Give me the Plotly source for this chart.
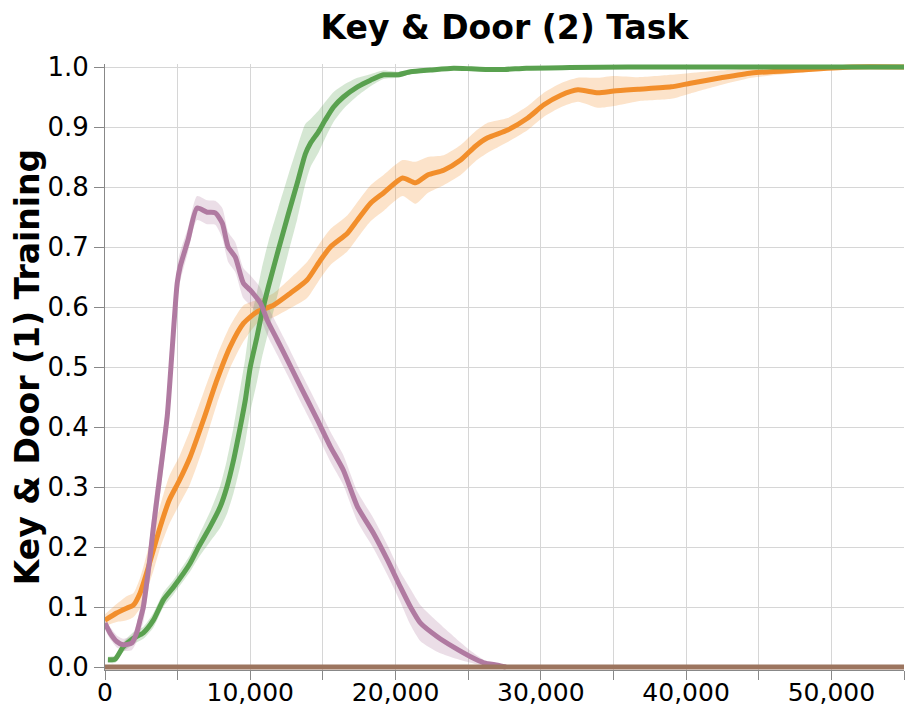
import plotly.graph_objects as go

# training steps / success rate
GREEN_X = [200, 700, 1240, 1950, 2640, 3330, 4020, 4710, 5860, 6440,
           7240, 7930, 8390, 8850, 9310, 9660, 10000, 10460, 10800, 11260,
           11930, 12620, 13240, 13790, 14140, 14690, 15170, 15720, 16410, 17380,
           18280, 19170, 20140, 21030, 22410, 24000, 25200, 26300, 27500, 29000,
           32000, 36000, 40000, 45000, 50000, 55000]
GREEN_Y = [0.012, 0.013, 0.033, 0.048, 0.057, 0.078, 0.112, 0.133, 0.173, 0.2,
           0.234, 0.267, 0.30, 0.345, 0.40, 0.445, 0.50, 0.55, 0.59, 0.635,
           0.695, 0.755, 0.807, 0.855, 0.873, 0.892, 0.912, 0.933, 0.95, 0.967,
           0.978, 0.987, 0.987, 0.992, 0.995, 0.998, 0.997, 0.996, 0.996, 0.998,
           0.999, 1.0, 1.0, 1.0, 1.0, 1.0]
GREEN_STD = [0.005, 0.006, 0.008, 0.01, 0.01, 0.012, 0.012, 0.012, 0.014, 0.018,
             0.025, 0.035, 0.045, 0.055, 0.065, 0.07, 0.075, 0.075, 0.075, 0.075,
             0.07, 0.065, 0.06, 0.05, 0.04, 0.035, 0.03, 0.025, 0.02, 0.015,
             0.01, 0.007, 0.005, 0.004, 0.003, 0.002, 0.002, 0.002, 0.002, 0.002,
             0.001, 0, 0, 0, 0, 0]

ORANGE_X = [0, 800, 1490, 1950, 2410, 2870, 3330, 3790, 4420, 5100,
            5860, 6780, 7700, 8620, 9540, 10460, 11600, 12760, 13910, 14830,
            15520, 16690, 17380, 18280, 19170, 20480, 21380, 22210, 23310, 24480,
            25500, 26340, 27720, 29100, 30210, 31380, 32550, 33930, 35030, 36690,
            38970, 40300, 42400, 44500, 47900, 51400, 55000]
ORANGE_Y = [0.078, 0.09, 0.098, 0.103, 0.123, 0.157, 0.195, 0.233, 0.278, 0.31,
            0.35, 0.412, 0.478, 0.534, 0.573, 0.592, 0.603, 0.623, 0.645, 0.678,
            0.70, 0.723, 0.745, 0.773, 0.79, 0.815, 0.807, 0.82, 0.828, 0.845,
            0.868, 0.882, 0.895, 0.915, 0.937, 0.953, 0.962, 0.957, 0.96, 0.963,
            0.967, 0.973, 0.982, 0.99, 0.995, 1.0, 1.0]
ORANGE_STD = [0.01, 0.015, 0.02, 0.02, 0.025, 0.03, 0.035, 0.035, 0.04, 0.04,
              0.045, 0.045, 0.04, 0.035, 0.03, 0.02, 0.02, 0.025, 0.03, 0.03,
              0.03, 0.03, 0.03, 0.03, 0.03, 0.03, 0.035, 0.03, 0.025, 0.025,
              0.025, 0.025, 0.02, 0.02, 0.02, 0.02, 0.02, 0.025, 0.025, 0.02,
              0.02, 0.017, 0.012, 0.008, 0.004, 0.001, 0]

PURPLE_X = [0, 340, 830, 1240, 1840, 2180, 2410, 2640, 2870, 3100,
            3330, 3590, 4280, 4620, 4970, 5170, 5720, 6340, 7030, 7590,
            8070, 8480, 8970, 9520, 10000, 10690, 11170, 11860, 12550, 13240,
            13930, 14620, 15520, 16410, 17380, 18480, 19450, 20340, 21030, 21720,
            22900, 24000, 25170, 26070, 27030, 27600]
PURPLE_Y = [0.073, 0.057, 0.042, 0.037, 0.04, 0.057, 0.078, 0.1, 0.14, 0.183,
            0.233, 0.283, 0.417, 0.528, 0.64, 0.667, 0.712, 0.765, 0.758, 0.757,
            0.74, 0.70, 0.683, 0.64, 0.628, 0.607, 0.578, 0.545, 0.512, 0.478,
            0.445, 0.412, 0.367, 0.328, 0.267, 0.223, 0.178, 0.133, 0.10, 0.073,
            0.05, 0.033, 0.017, 0.007, 0.003, 0.0]
PURPLE_STD = [0.01, 0.01, 0.01, 0.01, 0.012, 0.015, 0.02, 0.025, 0.03, 0.035,
              0.035, 0.035, 0.03, 0.03, 0.03, 0.025, 0.02, 0.02, 0.02, 0.02,
              0.025, 0.025, 0.025, 0.025, 0.025, 0.025, 0.025, 0.025, 0.025, 0.025,
              0.025, 0.025, 0.025, 0.025, 0.025, 0.025, 0.025, 0.025, 0.03, 0.03,
              0.025, 0.018, 0.01, 0.005, 0.002, 0]

BROWN_X = [0, 55000]
BROWN_Y = [0.0, 0.0]

X_TICKS = [0, 5000, 10000, 15000, 20000, 25000, 30000, 35000, 40000, 45000, 50000, 55000]
X_LABELS = ["0", "", "10,000", "", "20,000", "", "30,000", "", "40,000", "", "50,000", ""]


def band(x, y, std, rgb):
    upper = [min(v + s, 1.0) for v, s in zip(y, std)]
    lower = [max(v - s, 0.0) for v, s in zip(y, std)]
    return go.Scatter(
        x=x + x[::-1],
        y=upper + lower[::-1],
        fill="toself",
        fillcolor=f"rgba({rgb},0.25)",
        line={"width": 0, "shape": "spline", "smoothing": 0.6},
        mode="lines",
        hoverinfo="skip",
        showlegend=False,
    )


def line(x, y, color):
    return go.Scatter(
        x=x, y=y, mode="lines",
        line={"color": color, "width": 5, "shape": "spline", "smoothing": 0.6},
        showlegend=False,
    )


fig = go.Figure()

# shaded spread first, then the mean curves on top
fig.add_trace(band(ORANGE_X, ORANGE_Y, ORANGE_STD, "242,142,43"))
fig.add_trace(band(GREEN_X, GREEN_Y, GREEN_STD, "89,161,79"))
fig.add_trace(band(PURPLE_X, PURPLE_Y, PURPLE_STD, "176,122,161"))
fig.add_trace(line(ORANGE_X, ORANGE_Y, "#F28E2B"))
fig.add_trace(line(GREEN_X, GREEN_Y, "#59A14F"))
fig.add_trace(line(PURPLE_X, PURPLE_Y, "#B07AA1"))
fig.add_trace(line(BROWN_X, BROWN_Y, "#9C755F"))

# page body keeps an 8px margin, so the figure is 16px smaller than the window
fig.update_layout(
    width=900,
    height=698,
    margin={"l": 97, "r": 4, "t": 56, "b": 36, "autoexpand": False},
    paper_bgcolor="white",
    plot_bgcolor="white",
    font={"family": "DejaVu Sans", "color": "black"},
    title={
        "text": "<b>Key & Door (2) Task</b>",
        "font": {"size": 33, "family": "DejaVu Sans"},
        "x": 0.5, "xref": "paper", "xanchor": "center",
        "y": 0.972, "yref": "container", "yanchor": "middle",
        "automargin": False,
    },
    xaxis={
        "range": [0, 55000],
        "automargin": False,
        "tickvals": X_TICKS,
        "ticktext": X_LABELS,
        "tickfont": {"size": 25},
        "ticks": "outside",
        "ticklen": 9,
        "tickcolor": "#888",
        "ticklabelstandoff": -9,
        "showline": True,
        "linecolor": "#888",
        "showgrid": True,
        "gridcolor": "#d6d6d6",
        "zeroline": False,
    },
    yaxis={
        "range": [-0.005, 1.005],
        "automargin": False,
        "tick0": 0,
        "dtick": 0.1,
        "tickformat": ".1f",
        "tickfont": {"size": 26},
        "ticks": "outside",
        "ticklen": 10,
        "tickcolor": "#888",
        "showline": True,
        "linecolor": "#888",
        "showgrid": True,
        "gridcolor": "#d6d6d6",
        "zeroline": False,
        "title": {"text": "<b>Key & Door (1) Training</b>", "font": {"size": 33}, "standoff": 8},
    },
)

fig.write_html("out.html")
